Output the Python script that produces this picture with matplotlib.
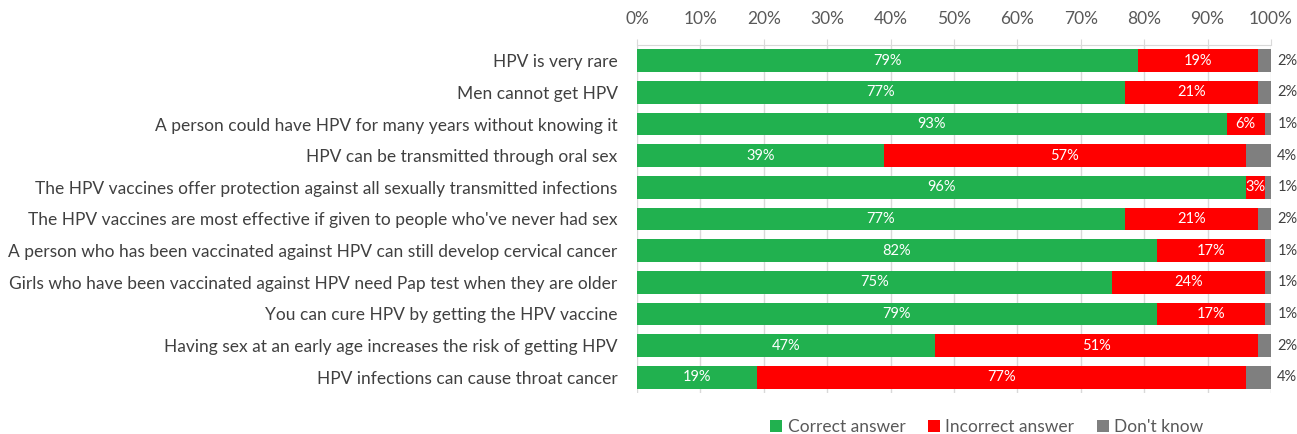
import matplotlib.pyplot as plt
import numpy as np

# survey statements, top to bottom
statements = [
    "HPV is very rare",
    "Men cannot get HPV",
    "A person could have HPV for many years without knowing it",
    "HPV can be transmitted through oral sex",
    "The HPV vaccines offer protection against all sexually transmitted infections",
    "The HPV vaccines are most effective if given to people who've never had sex",
    "A person who has been vaccinated against HPV can still develop cervical cancer",
    "Girls who have been vaccinated against HPV need Pap test when they are older",
    "You can cure HPV by getting the HPV vaccine",
    "Having sex at an early age increases the risk of getting HPV",
    "HPV infections can cause throat cancer",
]
correct = [79, 77, 93, 39, 96, 77, 82, 75, 82, 47, 19]
incorrect = [19, 21, 6, 57, 3, 21, 17, 24, 17, 51, 77]
dont_know = [2, 2, 1, 4, 1, 2, 1, 1, 1, 2, 4]
# the printed label on the "cure" row says 79% even though the bar is longer
correct_labels = ["79%", "77%", "93%", "39%", "96%", "77%", "82%", "75%", "79%", "47%", "19%"]

plt.rcParams['font.family'] = ['Lato', 'DejaVu Sans']

green = '#21b14f'
red = '#ff0000'
grey = '#7f7f7f'

fig = plt.figure(figsize=(12.97, 4.34), dpi=100)
ax = fig.add_axes([0.4911, 0.0945, 0.4888, 0.8018])

y = np.arange(len(statements))
c = np.array(correct)
i = np.array(incorrect)
d = np.array(dont_know)
h = 0.72

ax.barh(y, c, height=h, color=green, label='Correct answer', zorder=3)
ax.barh(y, i, left=c, height=h, color=red, label='Incorrect answer', zorder=3)
ax.barh(y, d, left=c + i, height=h, color=grey, label="Don't know", zorder=3)

# labels inside the bars
for k in range(len(y)):
    ax.text(c[k] / 2, y[k], correct_labels[k], ha='center', va='center',
            color='white', fontsize=10.5, zorder=4)
    ax.text(c[k] + i[k] / 2, y[k], f"{incorrect[k]}%", ha='center', va='center',
            color='white', fontsize=10.5, zorder=4)
    ax.text(101.0, y[k], f"{dont_know[k]}%", ha='left', va='center',
            color='#404040', fontsize=10.5, clip_on=False)

ax.set_xlim(0, 100)
ax.set_ylim(len(y) - 0.5, -0.5)
ax.set_yticks(y)
ax.set_yticklabels(statements, fontsize=12.5, color='#404040')
ax.set_xticks(np.arange(0, 101, 10))
ax.set_xticklabels([f"{t}%" for t in range(0, 101, 10)], fontsize=12.5, color='#595959')
ax.xaxis.tick_top()
ax.tick_params(axis='x', length=4, color='#d9d9d9', pad=9)
ax.tick_params(axis='y', length=0, pad=14)
ax.grid(axis='x', color='#d9d9d9', linewidth=1, zorder=0)

for s in ['right', 'bottom', 'left']:
    ax.spines[s].set_visible(False)
ax.spines['top'].set_color('#d9d9d9')

ax.legend(loc='upper center', bbox_to_anchor=(0.552, -0.03), ncol=3, frameon=False,
          fontsize=12.5, handlelength=0.7, handleheight=0.7, handletextpad=0.3,
          columnspacing=1.3, labelcolor='#595959')

fig.savefig('out.png', dpi=100)
